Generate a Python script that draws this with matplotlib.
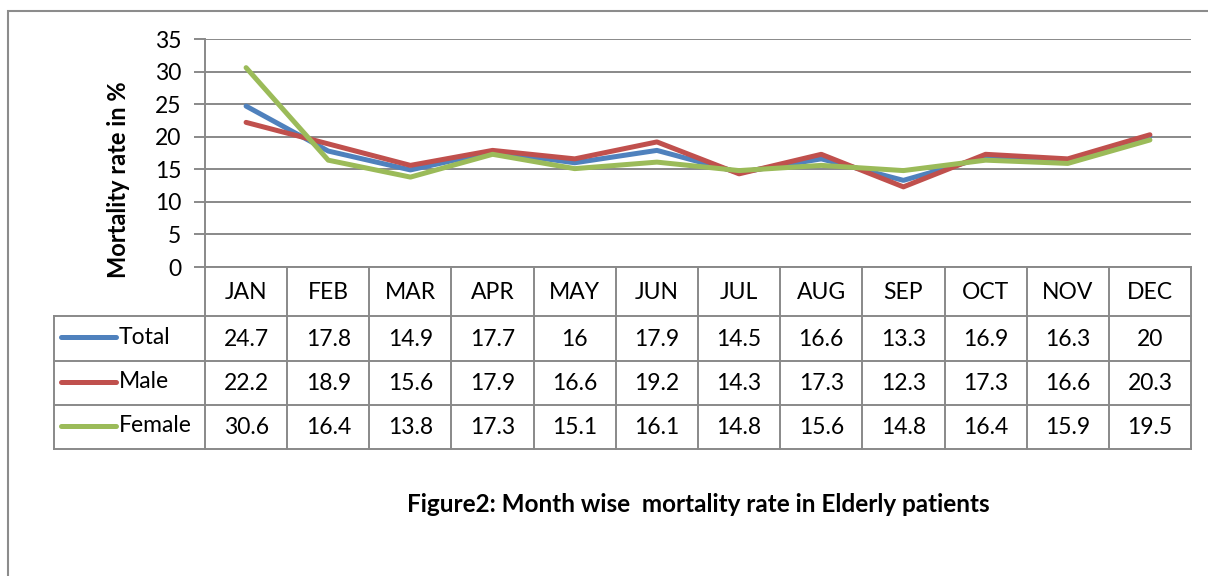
import matplotlib
matplotlib.use("Agg")
import matplotlib.pyplot as plt
from matplotlib.patches import Rectangle

months = ["JAN", "FEB", "MAR", "APR", "MAY", "JUN",
          "JUL", "AUG", "SEP", "OCT", "NOV", "DEC"]
total = [24.7, 17.8, 14.9, 17.7, 16, 17.9, 14.5, 16.6, 13.3, 16.9, 16.3, 20]
male = [22.2, 18.9, 15.6, 17.9, 16.6, 19.2, 14.3, 17.3, 12.3, 17.3, 16.6, 20.3]
female = [30.6, 16.4, 13.8, 17.3, 15.1, 16.1, 14.8, 15.6, 14.8, 16.4, 15.9, 19.5]

series = [("Total", total, "#4F81BD"),
          ("Male", male, "#C0504D"),
          ("Female", female, "#9BBB59")]

plt.rcParams["font.family"] = ["Lato", "DejaVu Sans"]
W, H = 1208, 576
grid_col = "#898989"
fs = 16.5

fig = plt.figure(figsize=(W / 100, H / 100), dpi=100)


def fx(px):
    return px / W


def fy(py):
    return 1 - py / H


# outer chart frame
fig.patches.append(Rectangle((fx(8), fy(600)), fx(1220) - fx(8), fy(11) - fy(600),
                             transform=fig.transFigure, fill=False,
                             edgecolor="#8c8c8c", lw=1.5))

# plot area
ax = fig.add_axes([fx(205), fy(267), fx(1191) - fx(205), fy(39) - fy(267)])
x = list(range(len(months)))
for name, vals, color in series:
    ax.plot(x, vals, color=color, lw=3.6, solid_capstyle="round", zorder=3)

ax.set_xlim(-0.5, len(months) - 0.5)
ax.set_ylim(0, 35)
ax.set_yticks(range(0, 36, 5))
ax.set_xticks([])
ax.grid(axis="y", color=grid_col, lw=1.4)
ax.set_axisbelow(True)
for side in ["top", "right", "bottom"]:
    ax.spines[side].set_visible(False)
ax.spines["left"].set_color(grid_col)
ax.spines["left"].set_linewidth(1.4)
ax.tick_params(axis="y", length=8, width=1.4, color=grid_col,
               labelsize=fs, pad=9)

fig.text(fx(118), fy(180), "Mortality rate in %", rotation=90,
         ha="center", va="center", fontsize=17, fontweight="bold")

# data table below the plot
tab = fig.add_axes([fx(205), fy(449), fx(1191) - fx(205), fy(267) - fy(449)])
tab.set_xlim(-0.5, len(months) - 0.5)
row_edges = [0, 48.7, 93.7, 138, 182]
tab.set_ylim(row_edges[-1], 0)
tab.axis("off")

legend_left = -0.5 - (205 - 54) / 82.2
line_kw = dict(color=grid_col, lw=1.4, clip_on=False)
# horizontal lines
tab.plot([-0.5, 11.5], [row_edges[0]] * 2, **line_kw)
for yv in row_edges[1:]:
    tab.plot([legend_left, 11.5], [yv, yv], **line_kw)
# vertical lines
for i in range(len(months) + 1):
    tab.plot([i - 0.5, i - 0.5], [row_edges[0], row_edges[-1]], **line_kw)
tab.plot([legend_left, legend_left], [row_edges[1], row_edges[-1]], **line_kw)

for i, m in enumerate(months):
    tab.text(i, (row_edges[0] + row_edges[1]) / 2 + 1, m, ha="center",
             va="center", fontsize=fs)

for r, (name, vals, color) in enumerate(series):
    yc = (row_edges[r + 1] + row_edges[r + 2]) / 2
    tab.plot([legend_left + 0.08, legend_left + 0.75], [yc - 1, yc - 1],
             color=color, lw=3.6, solid_capstyle="round", clip_on=False)
    tab.text(legend_left + 0.79, yc - 1, name, ha="left", va="center",
             fontsize=fs)
    for i, v in enumerate(vals):
        tab.text(i, yc + 1, f"{v:g}", ha="center", va="center", fontsize=fs)

fig.text(fx(698), fy(505), "Figure2: Month wise  mortality rate in Elderly patients",
         ha="center", va="center", fontsize=17.5, fontweight="bold")

fig.savefig("out.png", dpi=100)
